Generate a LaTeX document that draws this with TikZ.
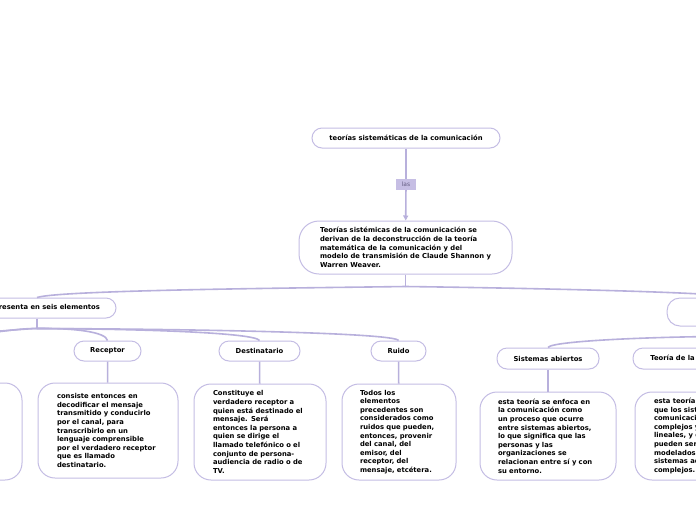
\documentclass[tikz,border=0pt]{standalone}
\usepackage{fontspec}
\newfontfamily\vf{DejaVu Sans}
\usetikzlibrary{arrows.meta}
\definecolor{bord}{RGB}{196,189,228}
\definecolor{conn}{RGB}{184,176,220}
\definecolor{lasfill}{RGB}{198,190,228}
\definecolor{lastext}{RGB}{100,92,130}
\begin{document}
\begin{tikzpicture}[x=1pt,y=-1pt,
  txt/.style={font=\vf\bfseries\fontsize{6.8}{8.6}\selectfont},
  hd/.style={txt, draw=bord, line width=1pt, rounded corners=10pt, fill=white, inner sep=0pt},
  desc/.style={txt, draw=bord, line width=1pt, rounded corners=17pt, fill=white, inner sep=0pt, align=left},
  lasbox/.style={fill=lasfill, text=lastext, font=\vf\fontsize{6}{7}\selectfont, minimum width=20pt, minimum height=11pt, inner sep=0pt},
  conn/.style={draw=conn, line width=1.6pt}
]
\useasboundingbox (0,0) rectangle (696,520);
\clip (0,0) rectangle (696,520);
\fill[white] (0,0) rectangle (696,520);

% nodes
\node[hd, minimum width=188pt, minimum height=20pt] (top) at (406,138) {teorías sistemáticas de la comunicación};
\node[lasbox] (las) at (406,184.5) {las};
\node[hd, minimum width=213pt, minimum height=53pt, rounded corners=20pt, align=left] (main) at (405.5,247.5)
  {Teorías sistémicas de la comunicación se\\derivan de la deconstrucción de la teoría\\matemática de la comunicación y del\\modelo de transmisión de Claude Shannon y\\Warren Weaver.};

\node[hd, minimum width=158pt, minimum height=20pt] (left) at (37,308) {Se representa en seis elementos};
\node[hd, minimum width=140pt, minimum height=28pt, rounded corners=13pt] (right) at (737,312) {};

\node[hd, minimum width=67pt, minimum height=20pt] (rec) at (107.5,351) {Receptor};
\node[hd, minimum width=81pt, minimum height=20pt] (dest) at (259.5,351) {Destinatario};
\node[hd, minimum width=55pt, minimum height=20pt] (ruido) at (398.5,351) {Ruido};
\node[hd, minimum width=102pt, minimum height=21pt] (sist) at (548,358.5) {Sistemas abiertos};
\node[hd, minimum width=128pt, minimum height=21pt] (teo) at (697,358.5) {Teoría de la complejidad};

\node[desc, minimum width=132pt, minimum height=97pt] (ld) at (-44,431.5) {};
\node[desc, minimum width=140pt, minimum height=95pt, text width=102pt] (recd) at (108,430.5)
  {consiste entonces en\\decodificar el mensaje\\transmitido y conducirlo\\por el canal, para\\transcribirlo en un\\lenguaje comprensible\\por el verdadero receptor\\que es llamado\\destinatario.};
\node[desc, minimum width=132pt, minimum height=96pt, text width=94pt] (destd) at (260,432)
  {Constituye el\\verdadero receptor a\\quien está destinado el\\mensaje. Será\\entonces la persona a\\quien se dirige el\\llamado telefónico o el\\conjunto de persona-\\audiencia de radio o de\\TV.};
\node[desc, minimum width=114pt, minimum height=96pt, text width=78pt] (ruidod) at (399,432)
  {Todos los\\elementos\\precedentes son\\considerados como\\ruidos que pueden,\\entonces, provenir\\del canal, del\\emisor, del\\receptor, del\\mensaje, etcétera.};
\node[desc, minimum width=136pt, minimum height=88pt, text width=100pt] (sistd) at (548,436)
  {esta teoría se enfoca en\\la comunicación como\\un proceso que ocurre\\entre sistemas abiertos,\\lo que significa que las\\personas y las\\organizaciones se\\relacionan entre sí y con\\su entorno.};
\node[desc, minimum width=140pt, minimum height=88pt, text width=102pt] (teod) at (705,436)
  {esta teoría sostiene\\que los sistemas de\\comunicación son\\complejos y no\\lineales, y que\\pueden ser\\modelados como\\sistemas adaptativos\\complejos.};

\coordinate (offA) at (-60,341);
\coordinate (offB) at (-210,341);

% connectors
\draw[conn] (top) -- (las);
\draw[conn, -{Triangle[width=5pt,length=5pt]}] (las) -- (main);
\draw[conn] (main.south) -- ++(0,12) coordinate (mb);
\draw[conn] (mb) .. controls (300,288) and (60,290) .. (left.north);
\draw[conn] (mb) .. controls (520,288) and (720,292) .. (right.north);

\draw[conn] (left.south) -- ++(0,10) coordinate (lb);
\draw[conn] (lb) .. controls (75,328) and (106,332) .. (rec.north);
\draw[conn] (lb) .. controls (150,329) and (255,333) .. (dest.north);
\draw[conn] (lb) .. controls (200,329) and (395,333) .. (ruido.north);
\draw[conn] (lb) .. controls (20,328) and (-20,334) .. (offA);
\draw[conn] (lb) .. controls (15,329) and (-60,338) .. (offB);

\draw[conn] (right.south) -- ++(0,10) coordinate (rb);
\draw[conn] (rb) .. controls (680,336) and (552,340) .. (sist.north);
\draw[conn] (rb) .. controls (720,338) and (697,342) .. (teo.north);

\draw[conn] (rec) -- (recd);
\draw[conn] (dest) -- (destd);
\draw[conn] (ruido) -- (ruidod);
\draw[conn] (sist) -- (sistd);
\draw[conn] (teo.south) -- (teo.south |- teod.north);
\end{tikzpicture}
\end{document}
